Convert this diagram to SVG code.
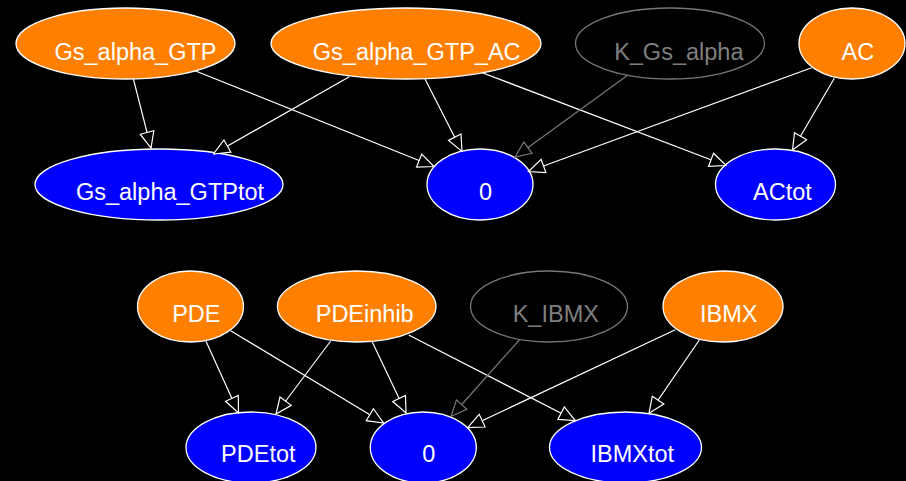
<svg xmlns="http://www.w3.org/2000/svg" width="906" height="481" viewBox="0 0 906 481">
  <style>
    .species ellipse { fill: #ff7f00; stroke: #ffffff; stroke-width: 1.3; }
    .total ellipse { fill: #0000ff; stroke: #ffffff; stroke-width: 1.3; }
    .param ellipse { fill: none; stroke: #777777; stroke-width: 1.3; }
    text { font-family: "Liberation Sans", Arial, sans-serif; font-size: 23.5px; text-anchor: middle; fill: #ffffff; }
    .param text { fill: #7f7f7f; }
    .edge { fill: none; stroke: #ffffff; stroke-width: 1.2; marker-end: url(#arrow); }
    .edge.dim { stroke: #7a7a7a; marker-end: url(#arrow-dim); }
  </style>
  <defs>
    <marker id="arrow" viewBox="-1 -1 18 16" refX="16" refY="7" markerWidth="18" markerHeight="16" markerUnits="userSpaceOnUse" orient="auto">
      <path d="M0,0 L16,7 L0,14 Z" fill="#000000" stroke="#ffffff" stroke-width="1.2"/>
    </marker>
    <marker id="arrow-dim" viewBox="-1 -1 18 16" refX="16" refY="7" markerWidth="18" markerHeight="16" markerUnits="userSpaceOnUse" orient="auto">
      <path d="M0,0 L16,7 L0,14 Z" fill="#000000" stroke="#7a7a7a" stroke-width="1.2"/>
    </marker>
  </defs>
  <rect x="0" y="0" width="906" height="481" fill="#000000"/>

  <!-- Gs alpha / adenylyl cyclase conservation -->
  <g id="Gs_alpha_GTP" class="species">
    <ellipse cx="125.5" cy="43.5" rx="109.5" ry="35.5"/>
    <text x="135.5" y="59.5">Gs_alpha_GTP</text>
  </g>
  <g id="Gs_alpha_GTP_AC" class="species">
    <ellipse cx="406" cy="43.5" rx="135" ry="35.5"/>
    <text x="416.7" y="59.5">Gs_alpha_GTP_AC</text>
  </g>
  <g id="K_Gs_alpha" class="param">
    <ellipse cx="670" cy="43.5" rx="94.5" ry="35.5"/>
    <text x="678.8" y="59.5">K_Gs_alpha</text>
  </g>
  <g id="AC" class="species">
    <ellipse cx="852" cy="43.5" rx="53" ry="35.5"/>
    <text x="857.8" y="59.5">AC</text>
  </g>
  <g id="Gs_alpha_GTPtot" class="total">
    <ellipse cx="159" cy="184.5" rx="124" ry="35.5"/>
    <text x="170" y="199.5">Gs_alpha_GTPtot</text>
  </g>
  <g id="zero_top" class="total">
    <ellipse cx="480" cy="184.5" rx="53" ry="35.5"/>
    <text x="485.5" y="199.5">0</text>
  </g>
  <g id="ACtot" class="total">
    <ellipse cx="775.5" cy="184.5" rx="60" ry="35.5"/>
    <text x="782.5" y="199.5">ACtot</text>
  </g>

  <!-- PDE / IBMX conservation -->
  <g id="PDE" class="species">
    <ellipse cx="190.5" cy="306.5" rx="53" ry="35.5"/>
    <text x="196.3" y="321.7">PDE</text>
  </g>
  <g id="PDEinhib" class="species">
    <ellipse cx="356.7" cy="306.5" rx="79.3" ry="35.5"/>
    <text x="364.7" y="321.7">PDEinhib</text>
  </g>
  <g id="K_IBMX" class="param">
    <ellipse cx="549" cy="306.5" rx="78.5" ry="35.5"/>
    <text x="555.8" y="321.7">K_IBMX</text>
  </g>
  <g id="IBMX" class="species">
    <ellipse cx="723" cy="306.5" rx="60" ry="35.5"/>
    <text x="728.8" y="321.7">IBMX</text>
  </g>
  <g id="PDEtot" class="total">
    <ellipse cx="251" cy="447.5" rx="65" ry="35.5"/>
    <text x="258.3" y="462.3">PDEtot</text>
  </g>
  <g id="zero_bottom" class="total">
    <ellipse cx="423.3" cy="447.5" rx="53" ry="35.5"/>
    <text x="428.8" y="462.3">0</text>
  </g>
  <g id="IBMXtot" class="total">
    <ellipse cx="625.5" cy="447.5" rx="76" ry="35.5"/>
    <text x="632.3" y="462.3">IBMXtot</text>
  </g>

  <g id="edges">
    <path class="edge" d="M133.3,78.7 L151,148"/>
    <path class="edge" d="M195,70.7 L434,166.5"/>
    <path class="edge" d="M349.3,76.7 L213.5,154"/>
    <path class="edge" d="M425,79 L462,151.5"/>
    <path class="edge" d="M482.3,72.7 L726,165.5"/>
    <path class="edge dim" d="M627.7,75.3 L515,157"/>
    <path class="edge" d="M811.7,67.7 L528.5,171.5"/>
    <path class="edge" d="M834.3,78.3 L792.5,150"/>

    <path class="edge" d="M206,341.3 L238.5,413"/>
    <path class="edge" d="M230.7,330.7 L383.5,423"/>
    <path class="edge" d="M330.7,341 L276,414"/>
    <path class="edge" d="M372.3,342 L406,413"/>
    <path class="edge" d="M408.7,335 L575.3,420.5"/>
    <path class="edge dim" d="M519.3,340 L451,416.5"/>
    <path class="edge" d="M675.3,329.7 L467.7,427.5"/>
    <path class="edge" d="M699.3,340 L649,413.3"/>
  </g>
</svg>
